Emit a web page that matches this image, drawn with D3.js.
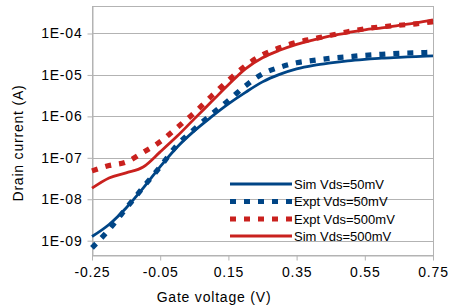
<!DOCTYPE html>
<html>
<head>
<meta charset="utf-8">
<script src="https://cdn.jsdelivr.net/npm/d3@7"></script>
<style>
  html, body { margin: 0; padding: 0; background: #fff; }
  svg { display: block; }
  text { font-family: "Liberation Sans", Arial, sans-serif; fill: #000; }
</style>
</head>
<body>
<svg id="chart" width="451" height="308"></svg>
<script>
// Gate voltage (V)
const gateVoltage = [-0.25, -0.2, -0.15, -0.1, -0.05, 0, 0.05, 0.1, 0.15, 0.2, 0.25,
                     0.3, 0.35, 0.4, 0.45, 0.5, 0.55, 0.6, 0.65, 0.7, 0.75];
// Drain current (A)
const simVds50 = [1.26e-9, 2.46e-9, 6.17e-9, 1.85e-8, 6.12e-8, 1.83e-7, 4.47e-7, 9.7e-7,
                  2.0e-6, 3.8e-6, 6.8e-6, 1.03e-5, 1.40e-5, 1.71e-5, 1.96e-5, 2.19e-5,
                  2.38e-5, 2.55e-5, 2.66e-5, 2.77e-5, 2.89e-5];
const exptVds50 = [6.7e-10, 1.87e-9, 6.0e-9, 1.95e-8, 6.1e-8, 2.05e-7, 4.93e-7, 1.12e-6,
                   2.43e-6, 5.46e-6, 1.06e-5, 1.53e-5, 1.96e-5, 2.25e-5, 2.52e-5, 2.74e-5,
                   2.97e-5, 3.15e-5, 3.33e-5, 3.42e-5, 3.52e-5];
const exptVds500 = [4.83e-8, 6.5e-8, 7.9e-8, 1.35e-7, 2.45e-7, 5.42e-7, 1.22e-6, 3.06e-6,
                    7.41e-6, 1.66e-5, 3.06e-5, 4.52e-5, 6.12e-5, 7.45e-5, 9.06e-5, 1.10e-4,
                    1.30e-4, 1.45e-4, 1.58e-4, 1.71e-4, 1.92e-4];
const simVds500 = [1.85e-8, 3.27e-8, 4.35e-8, 6.0e-8, 1.39e-7, 3.34e-7, 8.7e-7, 2.24e-6,
                   5.77e-6, 1.40e-5, 2.59e-5, 3.93e-5, 5.48e-5, 7.05e-5, 8.79e-5, 1.04e-4,
                   1.23e-4, 1.37e-4, 1.58e-4, 1.81e-4, 2.14e-4];

const xTicks = [-0.25, -0.05, 0.15, 0.35, 0.55, 0.75];
const xTickLabels = ["-0.25", "-0.05", "0.15", "0.35", "0.55", "0.75"];
const yTicks = [1e-9, 1e-8, 1e-7, 1e-6, 1e-5, 1e-4];
const yTickLabels = ["1E-09", "1E-08", "1E-07", "1E-06", "1E-05", "1E-04"];

const seriesNames = ["Sim Vds=50mV", "Expt Vds=50mV", "Expt Vds=500mV", "Sim Vds=500mV"];
const seriesValues = [simVds50, exptVds50, exptVds500, simVds500];

const BLUE = "#004586", RED = "#c9211e", GRID = "#b3b3b3";
const styles = [
  { color: BLUE, width: 2.8, dash: null },
  { color: BLUE, width: 5.2, dash: "6,8" },
  { color: RED, width: 5.2, dash: "6,8" },
  { color: RED, width: 2.8, dash: null }
];

const svg = d3.select("#chart");
const L = 92, R = 433, T = 6, B = 255;

const x = d3.scaleLinear().domain([-0.25, 0.75]).range([L, R]);
const y = d3.scaleLog().domain([Math.pow(10, -9.345), Math.pow(10, -3.3365)]).range([B, T]);

// gridlines
svg.append("g").selectAll("line").data(yTicks).join("line")
  .attr("x1", L).attr("x2", R)
  .attr("y1", d => Math.round(y(d)) + 0.5).attr("y2", d => Math.round(y(d)) + 0.5)
  .attr("stroke", GRID).attr("stroke-width", 1);

// frame
svg.append("rect").attr("x", L + 0.5).attr("y", T + 0.5)
  .attr("width", R - L).attr("height", B - T)
  .attr("fill", "none").attr("stroke", GRID).attr("stroke-width", 1);

// axes
const xAxis = d3.axisBottom(x).tickValues(xTicks)
  .tickFormat((d, i) => xTickLabels[i]).tickSizeInner(5).tickSizeOuter(0).tickPadding(7);
const gx = svg.append("g").attr("transform", `translate(0,${B + 0.5})`).call(xAxis);
gx.select(".domain").attr("stroke", GRID);
gx.selectAll(".tick line").attr("stroke", GRID);
gx.selectAll(".tick text").attr("font-size", 14).attr("letter-spacing", "0.8px")
  .attr("font-family", "Liberation Sans, Arial, sans-serif").attr("fill", "#000");

const yAxis = d3.axisLeft(y).tickValues(yTicks)
  .tickFormat((d, i) => yTickLabels[i]).tickSizeInner(5).tickSizeOuter(0).tickPadding(5);
const gy = svg.append("g").attr("transform", `translate(${L + 0.5},0)`).call(yAxis);
gy.select(".domain").attr("stroke", GRID);
gy.selectAll(".tick line").attr("stroke", GRID);
gy.selectAll(".tick text").attr("font-size", 14).attr("letter-spacing", "0.8px")
  .attr("font-family", "Liberation Sans, Arial, sans-serif").attr("fill", "#000");

// axis titles
svg.append("text").attr("x", 214).attr("y", 302)
  .attr("text-anchor", "middle").attr("font-size", 14).attr("letter-spacing", "0.8px")
  .text("Gate voltage (V)");
svg.append("text").attr("transform", "translate(23,143) rotate(-90)")
  .attr("text-anchor", "middle").attr("font-size", 14).attr("letter-spacing", "0.8px")
  .text("Drain current (A)");

// series
const line = d3.line().x(d => x(d[0])).y(d => y(d[1])).curve(d3.curveMonotoneX);
const plot = svg.append("g");
seriesValues.forEach((vals, i) => {
  const pts = gateVoltage.map((v, j) => [v, vals[j]]);
  const p = plot.append("path").datum(pts)
    .attr("d", line).attr("fill", "none")
    .attr("stroke", styles[i].color).attr("stroke-width", styles[i].width)
    .attr("stroke-linejoin", "round");
  if (styles[i].dash) p.attr("stroke-dasharray", styles[i].dash).attr("stroke-linecap", "butt");
});

// legend
const legendY = [184, 201.5, 219, 236];
const lg = svg.append("g");
seriesNames.forEach((name, i) => {
  const l = lg.append("line").attr("x1", 230).attr("x2", 292)
    .attr("y1", legendY[i]).attr("y2", legendY[i])
    .attr("stroke", styles[i].color)
    .attr("stroke-width", styles[i].dash ? 5.2 : 2.8);
  if (styles[i].dash) l.attr("stroke-dasharray", styles[i].dash);
  lg.append("text").attr("x", 294).attr("y", legendY[i]).attr("dy", "0.36em")
    .attr("font-size", 13).text(name);
});
</script>
</body>
</html>
